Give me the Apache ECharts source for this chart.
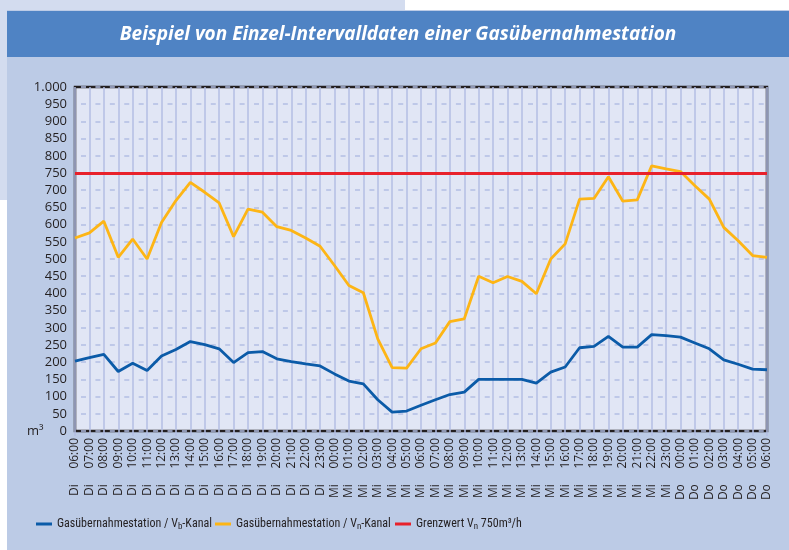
<!DOCTYPE html>
<html>
<head>
<meta charset="utf-8">
<script src="https://cdn.jsdelivr.net/npm/echarts@6/dist/echarts.min.js"></script>
<style>
  html, body { margin: 0; padding: 0; background: #ffffff; }
  #wrap { position: relative; width: 789px; height: 550px; overflow: hidden; }
  #bgLight { position: absolute; left: 0; top: 0; width: 405px; height: 200px; background: #d3dcef; }
  #bgPanel { position: absolute; left: 7px; top: 10px; width: 782px; height: 540px; background: #bccbe6; }
  #bgBand { position: absolute; left: 7px; top: 11px; width: 782px; height: 46px; background: #4f83c4; }
  #chart { position: absolute; left: 0; top: 0; width: 789px; height: 550px; }
</style>
</head>
<body>
<div id="wrap">
  <div id="bgLight"></div>
  <div id="bgPanel"></div>
  <div id="bgBand"></div>
  <div id="chart"></div>
</div>
<script>
// ---- Data ----
const categories = [
  "Di 06:00","Di 07:00","Di 08:00","Di 09:00","Di 10:00","Di 11:00","Di 12:00","Di 13:00",
  "Di 14:00","Di 15:00","Di 16:00","Di 17:00","Di 18:00","Di 19:00","Di 20:00","Di 21:00",
  "Di 22:00","Di 23:00","Mi 00:00","Mi 01:00","Mi 02:00","Mi 03:00","Mi 04:00","Mi 05:00",
  "Mi 06:00","Mi 07:00","Mi 08:00","Mi 09:00","Mi 10:00","Mi 11:00","Mi 12:00","Mi 13:00",
  "Mi 14:00","Mi 15:00","Mi 16:00","Mi 17:00","Mi 18:00","Mi 19:00","Mi 20:00","Mi 21:00",
  "Mi 22:00","Mi 23:00","Do 00:00","Do 01:00","Do 02:00","Do 03:00","Do 04:00","Do 05:00",
  "Do 06:00"
];
const vbValues = [
  203, 213, 223, 173, 197, 176, 218, 237,
  260, 251, 239, 199, 228, 231, 210, 202,
  195, 189, 166, 145, 137, 91, 55, 58,
  75, 91, 106, 113, 150, 150, 150, 150,
  139, 171, 186, 242, 246, 275, 244, 244,
  280, 277, 273, 256, 239, 207, 194, 180,
  178
];
const vnValues = [
  561, 576, 610, 505, 558, 500, 606, 670,
  723, 694, 663, 565, 645, 636, 594, 583,
  561, 537, 481, 423, 402, 268, 184, 183,
  239, 256, 318, 326, 450, 431, 449, 435,
  399, 500, 544, 674, 676, 739, 668, 672,
  771, 762, 754, 713, 674, 592, 553, 510,
  505
];
const limitValue = 750;
const yTicks = { min: 0, max: 1000, interval: 50 };
const seriesNames = ["Vb", "Vn", "Limit"];

const FONT = "'Open Sans', 'Noto Sans', sans-serif";
const LFONT = "'Roboto Condensed', 'Open Sans', sans-serif";
const gridColor = "#b3bee3";

const chart = echarts.init(document.getElementById('chart'), null, { renderer: 'canvas' });

const legendLabels = {
  "Vb": "Gasübernahmestation / V{sub|b}-Kanal",
  "Vn": "Gasübernahmestation / V{sub|n}-Kanal",
  "Limit": "Grenzwert V{sub|n} 750m³/h"
};
const legendLefts = [36, 215, 395];

function makeLegend(name, i) {
  return {
    left: legendLefts[i], top: 518, padding: 0,
    icon: 'rect', itemWidth: 16, itemHeight: 3, itemGap: 0,
    data: [name],
    formatter: function (n) { return legendLabels[n]; },
    textStyle: {
      fontFamily: LFONT, fontSize: 12, color: '#231f20',
      rich: { sub: { fontSize: 9, fontFamily: LFONT, color: '#231f20', padding: [6, 0, 0, 0] } }
    }
  };
}

chart.setOption({
  backgroundColor: 'transparent',
  animation: false,
  title: {
    text: 'Beispiel von Einzel-Intervalldaten einer Gasübernahmestation',
    left: 393, top: 20, textAlign: 'center',
    textStyle: { color: '#ffffff', fontSize: 19, fontWeight: 'bold', fontStyle: 'italic', fontFamily: FONT }
  },
  grid: {
    left: 75, right: 22, top: 87, bottom: 119,
    show: true, backgroundColor: '#e1e6f5', borderColor: '#231f20', borderWidth: 2.5,
    containLabel: false
  },
  legend: seriesNames.map(makeLegend),
  xAxis: {
    type: 'category',
    data: categories,
    boundaryGap: false,
    axisLine: { show: false },
    axisTick: { show: true, length: 5, lineStyle: { color: gridColor, width: 1.5 } },
    axisLabel: {
      rotate: 90, interval: 0, margin: 7,
      fontFamily: FONT, fontSize: 12, color: '#231f20',
      formatter: function (v) { return v.replace(' ', '     '); }
    },
    splitLine: { show: true, lineStyle: { color: gridColor, width: 1.5 } }
  },
  yAxis: {
    type: 'value',
    min: yTicks.min, max: yTicks.max, interval: yTicks.interval,
    axisLine: { show: false },
    axisTick: { show: false },
    axisLabel: {
      margin: 8, fontFamily: FONT, fontSize: 13, color: '#231f20',
      formatter: function (v) { return v >= 1000 ? String(v).replace(/(\d)(\d{3})$/, '$1.$2') : String(v); }
    },
    splitLine: { show: true, lineStyle: { color: gridColor, width: 1.5, type: [5, 9.42], dashOffset: -6 } }
  },
  graphic: [
    { type: 'text', left: 27, top: 425, style: { text: 'm³', fontFamily: FONT, fontSize: 13, fill: '#231f20' } }
  ],
  series: [
    { name: 'Vb', type: 'line', data: vbValues, symbol: 'none', color: '#0b5ba8',
      lineStyle: { width: 2.8, color: '#0b5ba8' }, z: 3 },
    { name: 'Vn', type: 'line', data: vnValues, symbol: 'none', color: '#fdb515',
      lineStyle: { width: 2.8, color: '#fdb515' }, z: 3 },
    { name: 'Limit', type: 'line', data: [], symbol: 'none', color: '#e8212b',
      lineStyle: { width: 2.8, color: '#e8212b' },
      markLine: { silent: true, symbol: 'none', label: { show: false },
        lineStyle: { color: '#e8212b', width: 2.8, type: 'solid' },
        data: [{ yAxis: limitValue }] }, z: 4 }
  ]
});
</script>
</body>
</html>
